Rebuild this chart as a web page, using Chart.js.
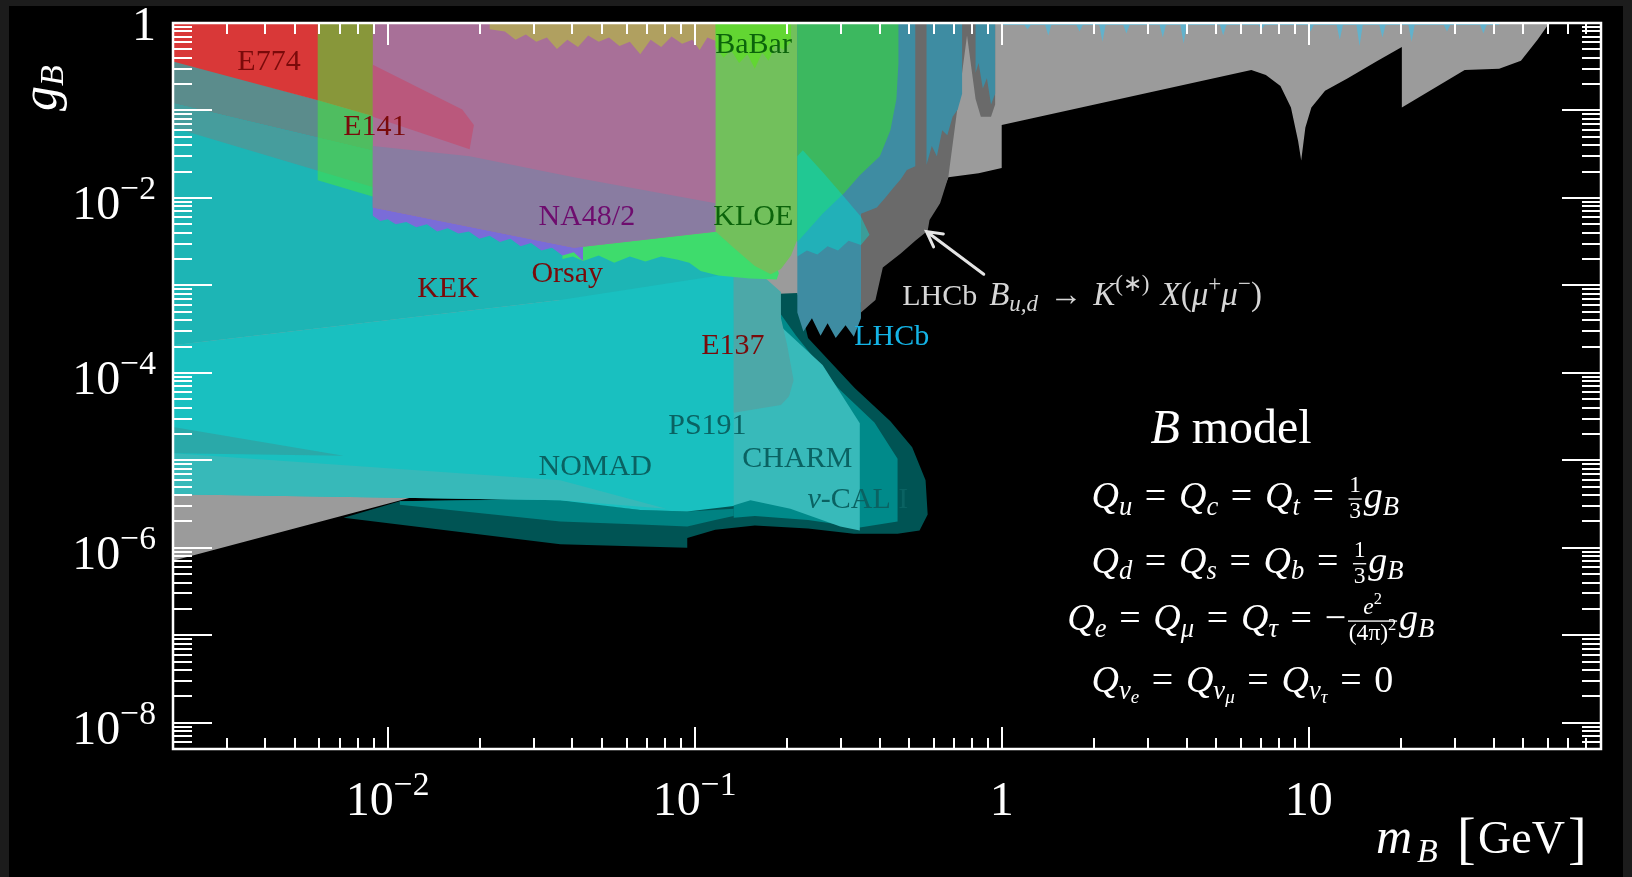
<!DOCTYPE html>
<html>
<head>
<meta charset="utf-8">
<script src="https://cdn.jsdelivr.net/npm/chart.js@4.4.1/dist/chart.umd.min.js"></script>
<style>
  html, body { margin: 0; padding: 0; background: #1c1c1c; }
  canvas { display: block; }
</style>
</head>
<body>
<canvas id="boundsChart" width="1632" height="877"></canvas>
<script>
// axis ranges (m_B in GeV, g_B)
const xMin = 0.002, xMax = 89.5;
const yMin = 5e-9, yMax = 1;

// tick labels
const xTickValues = [0.01, 0.1, 1, 10];
const xTickLabels = [["10", "\u22122"], ["10", "\u22121"], ["1", ""], ["10", ""]];
const yTickValues = [1, 1e-2, 1e-4, 1e-6, 1e-8];
const yTickLabels = [["1", ""], ["10", "\u22122"], ["10", "\u22124"], ["10", "\u22126"], ["10", "\u22128"]];

// excluded regions, [m_B, g_B] pairs
const grayEdge = [[0.002,7.1e-7],[0.134,3.6e-5],[0.194,4.3e-5],[0.206,5.7e-5],[0.213,8.2e-5],[0.216,2.1e-4],[0.216,4.9e-4],
  [0.348,6.4e-4],[0.410,0.0019],[0.469,0.00266],[0.523,0.0037],[0.574,0.00515],[0.582,0.0066],[0.630,0.0100],[0.670,0.0172],
  [0.841,0.0192],[1.0,0.022],[1.0,0.068],[6.5,0.29],[7.25,0.254],[8.09,0.19],[8.75,0.108],[9.23,0.045],[9.45,0.0267],
  [9.75,0.064],[10.2,0.108],[11.3,0.168],[13.4,0.234],[16.6,0.362],[20.1,0.53],[20.1,0.108],[32.2,0.29],[41.7,0.30],
  [49.1,0.37],[55.6,0.645],[60.1,0.95],[61.6,1.0]];
const vcalOuter = [[0.00719,2.2e-6],[0.01096,3.4e-6],[0.0365,3.7e-6],[0.0946,3.0e-6],[0.134,4.6e-6],[0.189,4.9e-4],[0.189,8.0e-4],
  [0.216,8.2e-4],[0.234,2.51e-4],[0.332,6.7e-5],[0.434,2.8e-5],[0.511,1.41e-5],[0.565,5.9e-6],[0.574,2.4e-6],[0.540,1.57e-6],
  [0.458,1.45e-6],[0.330,1.45e-6],[0.234,1.66e-6],[0.157,1.8e-6],[0.1167,1.61e-6],[0.0946,1.29e-6],[0.0946,1.0e-6],[0.0365,1.1e-6]];
const nomadLow = [[0.01096,3.4e-6],[0.0365,3.6e-6],[0.0665,2.7e-6],[0.0946,2.6e-6],[0.134,2.8e-6],[0.134,2.3e-6],[0.1167,2.07e-6],
  [0.0946,1.75e-6],[0.0665,1.85e-6],[0.0365,2.0e-6],[0.01096,3.1e-6]];
const vcalInner = [[0.189,4.9e-4],[0.214,2.66e-4],[0.293,6.7e-5],[0.385,2.7e-5],[0.458,1.04e-5],[0.458,2.0e-6],[0.345,1.7e-6],
  [0.234,2.07e-6],[0.157,2.3e-6],[0.134,2.2e-6],[0.134,4.9e-4]];
const charm = [[0.132,4.9e-4],[0.189,3.5e-4],[0.261,1.23e-4],[0.345,2.65e-5],[0.345,1.57e-6],[0.298,1.75e-6],[0.205,2.8e-6],
  [0.152,3.5e-6],[0.132,3.0e-6]];
const kek = [[0.002,0.343],[0.00592,0.131],[0.0185,0.038],[0.0433,0.0076],[0.1194,0.0038],[0.134,0.0019],[0.134,2.1e-4],
  [0.0365,6.8e-4],[0.002,2.07e-4]];
const ps191 = [[0.002,2.07e-4],[0.0365,6.8e-4],[0.134,1.38e-3],[0.134,3.0e-6],[0.0946,2.6e-6],[0.0665,2.7e-6],[0.0365,3.5e-6],[0.002,4.1e-6]];
const nomadWedge = [[0.002,2.4e-5],[0.00719,1.13e-5],[0.002,1.2e-5]];
const nomadBand = [[0.002,1.2e-5],[0.0365,5.9e-6],[0.0809,2.8e-6],[0.0365,3.5e-6],[0.002,4.1e-6]];
const orsayBand = [[0.002,0.38],[0.00592,0.131],[0.0091,0.085],[0.0091,0.0342],[0.002,0.121]];
const e141Band = [[0.002,0.121],[0.0091,0.0342],[0.0091,0.0131],[0.002,0.064]];
const e137 = [[0.134,1.54e-3],[0.163,1.38e-3],[0.191,8.4e-4],[0.191,4.2e-4],[0.200,2.1e-4],[0.210,8.2e-5],[0.203,5.4e-5],
  [0.191,4.3e-5],[0.134,3.5e-5]];
const na48Green = [[0.0371,0.0033],[0.117,0.0076],[0.177,0.0025],[0.188,0.00138],[0.185,0.00117],[0.151,0.0012],[0.1194,0.0013],
  [0.1046,0.00146],[0.0960,0.00181],[0.0875,0.00197],[0.0778,0.00214],[0.0691,0.00187],[0.0615,0.00214],[0.0547,0.00181],
  [0.0487,0.0022],[0.0433,0.0019],[0.0401,0.00214],[0.0371,0.0020]];
const na48 = [[0.00895,0.030],[0.0433,0.0076],[0.0433,0.0019],[0.0404,0.00239],[0.0371,0.0022],[0.0343,0.0027],[0.0317,0.0025],
  [0.0293,0.00306],[0.0271,0.00281],[0.0251,0.00341],[0.0232,0.00314],[0.0215,0.0037],[0.0199,0.00341],[0.0184,0.00413],
  [0.0170,0.00391],[0.0157,0.00449],[0.0145,0.00413],[0.01343,0.0050],[0.0124,0.00461],[0.0115,0.00529],[0.01063,0.0050],
  [0.0100,0.0057],[0.00946,0.00543],[0.00895,0.00624]];
const e774 = [[0.002,1],[0.0091,1],[0.0091,0.085],[0.00592,0.131],[0.002,0.362]];
const e141 = [[0.00592,1],[0.0091,1],[0.0091,0.0102],[0.00592,0.0159]];
const a1 = [[0.00895,1],[0.119,1],[0.119,0.00413],[0.0591,0.00314],[0.0404,0.0027],[0.00895,0.00777]];
const a1Low = [[0.00895,0.0392],[0.0185,0.030],[0.0404,0.0172],[0.117,0.0087],[0.117,0.00413],[0.0591,0.00314],[0.0404,0.0027],
  [0.00895,0.00777]];
const e774Tail = [[0.00895,0.334],[0.0175,0.1025],[0.0191,0.068],[0.0185,0.0361],[0.00895,0.085]];
const babarOlive = [[0.0215,1],[0.119,1],[0.119,0.61],[0.110,0.681],[0.1038,0.49],[0.0984,0.645],[0.0910,0.578],[0.0841,0.70],
  [0.0778,0.53],[0.0719,0.645],[0.0665,0.439],[0.0615,0.61],[0.0569,0.547],[0.0526,0.681],[0.0487,0.61],[0.0450,0.72],
  [0.0417,0.53],[0.0385,0.645],[0.0356,0.504],[0.0330,0.681],[0.0305,0.61],[0.0282,0.739],[0.0261,0.645],[0.0241,0.80],
  [0.0215,0.848]];
const kloe = [[0.117,1],[0.219,1],[0.219,0.0038],[0.206,0.0022],[0.191,0.00154],[0.177,0.00134],[0.157,0.00167],[0.134,0.0027],
  [0.117,0.00413]];
const babarGreen = [[0.117,1],[0.206,1],[0.206,0.61],[0.194,0.49],[0.184,0.578],[0.174,0.37],[0.166,0.46],[0.157,0.30],
  [0.1486,0.439],[0.1396,0.35],[0.1312,0.49],[0.1242,0.40],[0.117,0.53]];
const lhcbKX = [[0.348,4.9e-4],[0.388,6.8e-4],[0.410,0.0016],[0.469,0.00232],[0.523,0.00323],[0.574,0.0042],[0.582,0.00558],
  [0.630,0.0087],[0.670,0.0172],[0.771,0.72],[0.822,0.135],[0.855,0.085],[0.923,0.085],[0.952,0.117],[0.952,1],[0.348,1]];
const lhcbA = [[0.216,0.0038],[0.216,4.9e-4],[0.226,2.96e-4],[0.241,4.2e-4],[0.257,2.66e-4],[0.271,3.7e-4],[0.288,2.51e-4],
  [0.310,3.5e-4],[0.330,2.58e-4],[0.348,4.2e-4],[0.348,0.0066],[0.392,0.00777],[0.417,0.0100],[0.444,0.0131],[0.469,0.0163],
  [0.491,0.0209],[0.523,0.023],[0.523,1],[0.216,1]];
const lhcbB = [[0.569,1],[0.569,0.0239],[0.592,0.0392],[0.615,0.030],[0.640,0.0592],[0.665,0.052],[0.692,0.085],[0.719,0.1025],
  [0.743,0.155],[0.743,1]];
const lhcbC = [[0.822,1],[0.822,0.27],[0.841,0.35],[0.868,0.178],[0.895,0.234],[0.923,0.117],[0.952,0.155],[0.952,1]];
const kloeHigh = [[0.216,1],[0.461,1],[0.461,0.35],[0.454,0.135],[0.434,0.0592],[0.401,0.030],[0.345,0.0182],[0.307,0.0114],
  [0.261,0.0066],[0.216,0.00314]];
const na64 = [[0.216,0.030],[0.225,0.035],[0.261,0.0198],[0.305,0.0105],[0.348,0.0061],[0.371,0.0038],[0.348,0.00289],
  [0.317,0.00323],[0.293,0.0025],[0.271,0.00281],[0.251,0.00226],[0.232,0.0025],[0.216,0.00214]];
const lhcbHigh = [[1.0,1],[41.7,1],[41.7,0.946],[37.94,0.946],[37.05,0.76],[36.18,0.946],[28.88,0.946],[28.20,0.80],[27.54,0.946],
  [22.14,0.946],[21.62,0.61],[21.11,0.946],[17.80,0.946],[17.38,0.681],[16.97,0.946],[14.99,0.946],[14.64,0.547],[14.30,0.946],
  [12.92,0.946],[12.62,0.645],[12.32,0.946],[10.38,0.946],[10.14,0.80],[9.90,0.946],[7.197,0.946],[7.028,0.848],[6.863,0.946],
  [5.390,0.946],[5.264,0.72],[5.141,0.946],[4.007,0.946],[3.913,0.578],[3.821,0.946],[3.427,0.946],[3.347,0.681],[3.269,0.946],
  [2.609,0.946],[2.548,0.76],[2.488,0.946],[2.180,0.946],[2.129,0.61],[2.079,0.946],[1.836,0.946],[1.793,0.80],[1.751,0.946],
  [1.452,0.946],[1.418,0.72],[1.385,0.946],[1.243,0.946],[1.214,0.848],[1.186,0.946],[1.0,0.946]];

// drawing order, bottom to top
const layers = [
  [grayEdge, "#9b9b9b", "end"],
  [vcalOuter, "#005454"],
  [nomadLow, "#008282"],
  [vcalInner, "#008a8a"],
  [charm, "#38baba"],
  [kek, "#1db5b5"],
  [ps191, "#19c0c0"],
  [nomadWedge, "#2aa9a9"],
  [nomadBand, "#37b9b9"],
  [orsayBand, "#5b8c8c"],
  [e141Band, "#469d9d"],
  [e137, "#4ca8a8"],
  [na48Green, "#3edc6c"],
  [na48, "#7a6cd8"],
  [e774, "#d93838"],
  [e141, "rgba(70,230,60,0.55)"],
  [a1, "#a87098"],
  [a1Low, "#897ca1"],
  [e774Tail, "#ba587c"],
  [babarOlive, "#b0a060"],
  [kloe, "#72c05c"],
  [babarGreen, "#62d632"],
  [lhcbKX, "#6a6a6a"],
  [lhcbA, "#3e8ca2"],
  [lhcbB, "#3e8ca2"],
  [lhcbC, "#3e8ca2"],
  [kloeHigh, "#3cb85f"],
  [na64, "rgba(0,220,210,0.45)"],
  [lhcbHigh, "#62b2cc"]
];

const datasets = layers.map(([pts, color, fill]) => ({
  data: pts.map(p => ({x: p[0], y: p[1]})),
  backgroundColor: color,
  borderColor: "transparent",
  borderWidth: 0,
  pointRadius: 0,
  tension: 0,
  fill: fill || "shape"
})).reverse(); // chart.js paints dataset 0 last

// text on the plot
const redLbl = "#7a0a0a", greenLbl = "#0b640b", tealLbl = "#0a6262";
const sp = "\u2004";
const lhcbMath = [{t: "B", it: true}, {t: "u,d", it: true, sub: true}, {t: sp + "\u2192" + sp}, {t: "K", it: true},
  {t: "(\u2217)", sup: true}, {t: sp + "X", it: true}, {t: "("}, {t: "\u03bc", it: true}, {t: "+", sup: true},
  {t: "\u03bc", it: true}, {t: "\u2212", sup: true}, {t: ")"}];
const regionLabels = [
  {runs: [{t: "E774"}], at: [0.00324, 0.29], color: redLbl},
  {runs: [{t: "E141"}], at: [0.00717, 0.0524], color: redLbl},
  {runs: [{t: "BaBar"}], at: [0.1167, 0.453], color: greenLbl},
  {runs: [{t: "NA48/2"}], at: [0.0310, 0.0049], color: "#6e0c6e"},
  {runs: [{t: "KLOE"}], at: [0.115, 0.0049], color: greenLbl},
  {runs: [{t: "KEK"}], at: [0.01248, 0.000736], color: redLbl},
  {runs: [{t: "Orsay"}], at: [0.0294, 0.00109], color: redLbl},
  {runs: [{t: "E137"}], at: [0.1051, 0.000164], color: redLbl},
  {runs: [{t: "LHCb"}], at: [0.331, 0.000209], color: "#14b4e6"},
  {runs: [{t: "LHCb"}], at: [0.474, 0.000598], color: "#d6d6d6"},
  {runs: lhcbMath, at: [0.910, 0.000598], color: "#d6d6d6", size: 33},
  {runs: [{t: "PS191"}], at: [0.0820, 2.0e-5], color: tealLbl},
  {runs: [{t: "NOMAD"}], at: [0.0310, 6.8e-6], color: tealLbl},
  {runs: [{t: "CHARM"}], at: [0.143, 8.4e-6], color: tealLbl},
  {runs: [{t: "\u03bd", it: true}, {t: "-CAL I"}], at: [0.233, 2.86e-6], color: tealLbl}
];
const arrowFrom = [0.874, 0.00134], arrowTo = [0.569, 0.00413];

const third = {frac: [[{t: "1"}], [{t: "3"}]]};
const gB = [{t: "g", it: true}, {t: "B", it: true, sub: true}];
const Q = s => [{t: "Q", it: true}, {t: s, it: true, sub: true}];
const eq = {t: sp + "=" + sp};
const modelTitle = {runs: [{t: "B", it: true}, {t: " model"}], at: [3.05, 1.58e-5]};
const modelLines = [
  {runs: [...Q("u"), eq, ...Q("c"), eq, ...Q("t"), eq, third, ...gB], at: [1.96, 2.86e-6]},
  {runs: [...Q("d"), eq, ...Q("s"), eq, ...Q("b"), eq, third, ...gB], at: [1.96, 5.2e-7]},
  {runs: [...Q("e"), eq, ...Q("\u03bc"), eq, ...Q("\u03c4"), {t: sp + "=" + sp + "\u2212"},
    {frac: [[{t: "e", it: true}, {t: "2", sup: true}], [{t: "(4\u03c0)"}, {t: "2", sup: true}]]}, ...gB], at: [1.636, 1.15e-7]},
  {runs: [{t: "Q", it: true}, {t: "\u03bd", it: true, sub: true}, {t: "e", it: true, subsub: true}, eq,
    {t: "Q", it: true}, {t: "\u03bd", it: true, sub: true}, {t: "\u03bc", it: true, subsub: true}, eq,
    {t: "Q", it: true}, {t: "\u03bd", it: true, sub: true}, {t: "\u03c4", it: true, subsub: true}, {t: sp + "=" + sp + "0"}],
    at: [1.96, 2.25e-8]}
];

// small rich-text helper (italics, sub/superscripts, stacked fractions)
const serif = (size, it) => (it ? "italic " : "") + size + 'px "Liberation Serif", "Times New Roman", serif';
const partSize = (p, s) => p.subsub ? s * 0.5 : (p.sub || p.sup) ? s * 0.7 : s;
const partShift = (p, s) => p.subsub ? s * 0.3 : p.sub ? s * 0.18 : p.sup ? -s * 0.42 : 0;
function runWidth(ctx, runs, size) {
  let w = 0;
  for (const p of runs) w += partWidth(ctx, p, size);
  return w;
}
function partWidth(ctx, p, size) {
  if (p.frac) {
    const s = size * 0.62;
    return Math.max(runWidth(ctx, p.frac[0], s), runWidth(ctx, p.frac[1], s)) + size * 0.14;
  }
  ctx.font = serif(partSize(p, size), p.it);
  return ctx.measureText(p.t).width;
}
function drawRuns(ctx, runs, x, y, size) {
  ctx.textAlign = "left";
  ctx.textBaseline = "alphabetic";
  for (const p of runs) {
    const w = partWidth(ctx, p, size);
    if (p.frac) {
      const s = size * 0.62;
      const wn = runWidth(ctx, p.frac[0], s), wd = runWidth(ctx, p.frac[1], s);
      drawRuns(ctx, p.frac[0], x + (w - wn) / 2, y - size * 0.42, s);
      drawRuns(ctx, p.frac[1], x + (w - wd) / 2, y + size * 0.27, s);
      ctx.fillRect(x + size * 0.05, y - size * 0.25, w - size * 0.1, Math.max(1.2, size * 0.035));
    } else {
      ctx.font = serif(partSize(p, size), p.it);
      ctx.fillText(p.t, x, y + partShift(p, size));
    }
    x += w;
  }
}

const backdrop = {
  id: "backdrop",
  beforeDraw(chart) {
    const c = chart.ctx;
    c.save();
    c.fillStyle = "#1c1c1c";
    c.fillRect(0, 0, chart.width, chart.height);
    c.fillStyle = "#000";
    c.fillRect(9, 6, chart.width - 18, chart.height - 6);
    c.restore();
  }
};

const frameAndText = {
  id: "frameAndText",
  afterDatasetsDraw(chart) {
    const c = chart.ctx;
    const xs = chart.scales.x, ys = chart.scales.y;
    const {left, right, top, bottom} = chart.chartArea;
    const px = v => xs.getPixelForValue(v), py = v => ys.getPixelForValue(v);
    c.save();

    // ticks, pointing inwards on all four sides
    c.strokeStyle = "#fff";
    c.lineWidth = 2;
    c.beginPath();
    for (let e = -9; e <= 1; e++) {
      for (let k = 1; k <= 9; k++) {
        const v = k * Math.pow(10, e);
        if (v > xMin * 1.0001 && v < xMax) {
          const x = Math.round(px(v)), len = k === 1 ? 22 : 11;
          c.moveTo(x, bottom); c.lineTo(x, bottom - len);
          c.moveTo(x, top); c.lineTo(x, top + len);
        }
        if (v > yMin && v < yMax * 0.9999) {
          const y = Math.round(py(v)), len = k === 1 ? 39 : 19;
          c.moveTo(left, y); c.lineTo(left + len, y);
          c.moveTo(right, y); c.lineTo(right - len, y);
        }
      }
    }
    c.stroke();
    c.lineWidth = 2.5;
    c.strokeRect(left, top, right - left, bottom - top);

    // tick labels
    c.fillStyle = "#fff";
    xTickValues.forEach((v, i) => {
      const runs = [{t: xTickLabels[i][0]}, {t: xTickLabels[i][1], sup: true}];
      const w = runWidth(c, runs, 48);
      drawRuns(c, runs, px(v) - w / 2, 815, 48);
    });
    yTickValues.forEach((v, i) => {
      const runs = [{t: yTickLabels[i][0]}, {t: yTickLabels[i][1], sup: true}];
      const w = runWidth(c, runs, 48);
      drawRuns(c, runs, 156 - w, v === 1 ? 40 : py(v) + 21, 48);
    });

    // axis titles
    drawRuns(c, [{t: "m", it: true}], 1376, 853, 50);
    drawRuns(c, [{t: "B", it: true}], 1417, 862, 34);
    drawRuns(c, [{t: "["}], 1457, 857, 56);
    drawRuns(c, [{t: "GeV"}], 1478, 853, 46);
    drawRuns(c, [{t: "]"}], 1568, 857, 56);
    c.save();
    c.translate(56, 111);
    c.rotate(-Math.PI / 2);
    drawRuns(c, [{t: "g", it: true}], 0, 0, 50);
    c.font = serif(50, true);
    drawRuns(c, [{t: "B", it: true}], c.measureText("g").width, 7, 34);
    c.restore();

    // region labels
    for (const lbl of regionLabels) {
      c.fillStyle = lbl.color;
      drawRuns(c, lbl.runs, px(lbl.at[0]), py(lbl.at[1]), lbl.size || 30);
    }

    // arrow to the LHCb B -> K X region
    const ax0 = px(arrowFrom[0]), ay0 = py(arrowFrom[1]);
    const ax1 = px(arrowTo[0]), ay1 = py(arrowTo[1]);
    const ang = Math.atan2(ay1 - ay0, ax1 - ax0);
    c.strokeStyle = "#e4e4e4";
    c.lineWidth = 3;
    c.lineCap = "round";
    c.beginPath();
    c.moveTo(ax0, ay0); c.lineTo(ax1, ay1);
    c.moveTo(ax1 - 17 * Math.cos(ang - 0.5), ay1 - 17 * Math.sin(ang - 0.5));
    c.lineTo(ax1, ay1);
    c.lineTo(ax1 - 17 * Math.cos(ang + 0.5), ay1 - 17 * Math.sin(ang + 0.5));
    c.stroke();

    // model box
    c.fillStyle = "#fff";
    drawRuns(c, modelTitle.runs, px(modelTitle.at[0]), py(modelTitle.at[1]), 48);
    for (const line of modelLines) drawRuns(c, line.runs, px(line.at[0]), py(line.at[1]), 38);

    c.restore();
  }
};

const boundsChart = new Chart(document.getElementById("boundsChart").getContext("2d"), {
  type: "line",
  data: { datasets },
  options: {
    responsive: false,
    animation: false,
    devicePixelRatio: 1,
    events: [],
    layout: { padding: { left: 173, right: 31, top: 23, bottom: 128 } },
    scales: {
      x: { type: "logarithmic", min: xMin, max: xMax, bounds: "data", display: false },
      y: { type: "logarithmic", min: yMin, max: yMax, bounds: "data", display: false }
    },
    plugins: { legend: { display: false }, tooltip: { enabled: false } }
  },
  plugins: [backdrop, frameAndText]
});
</script>
</body>
</html>
